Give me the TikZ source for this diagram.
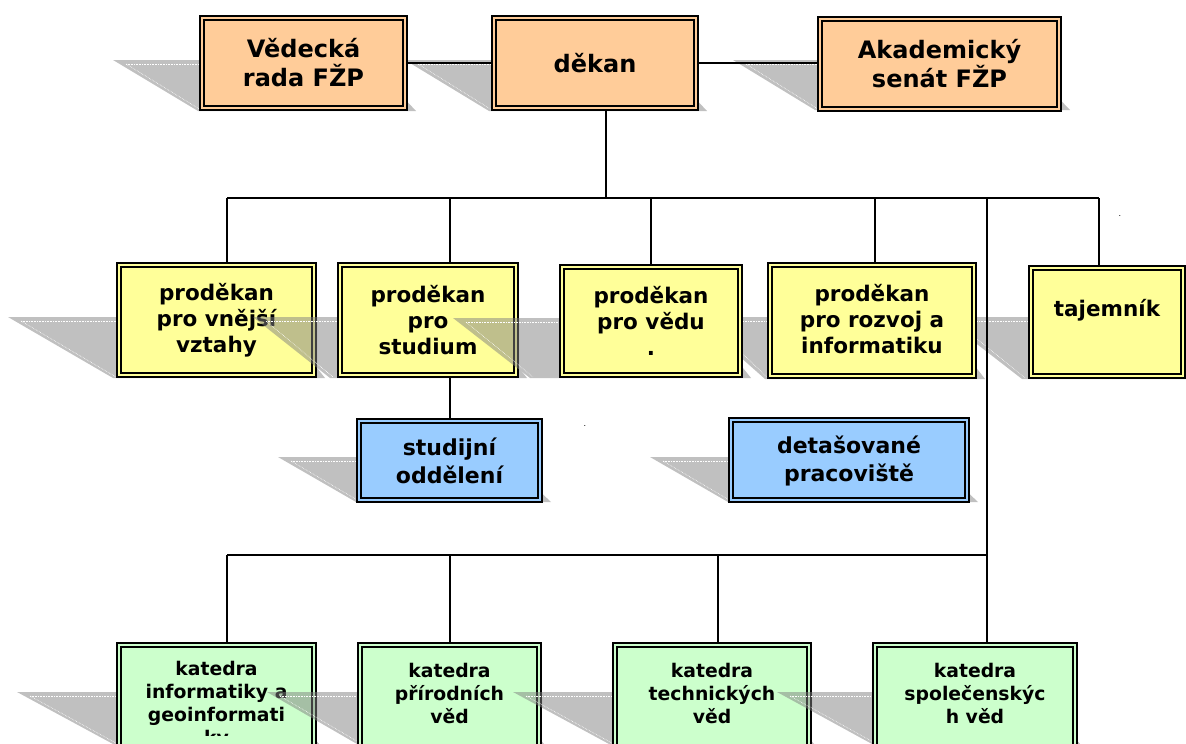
\documentclass[tikz,border=0pt]{standalone}
\usepackage{fontspec}
\setmainfont{DejaVu Sans}
\pgfdeclarelayer{shadowlayer}
\pgfdeclarelayer{linelayer}
\pgfsetlayers{shadowlayer,linelayer,main}
\definecolor{peach}{HTML}{FFCC99}
\definecolor{pyellow}{HTML}{FFFF99}
\definecolor{pblue}{HTML}{99CCFF}
\definecolor{pgreen}{HTML}{CCFFCC}
\definecolor{shgray}{HTML}{C0C0C0}
% #1 xl, #2 ym, #3 x top right, #4 yb, #5 x bottom left, #6 x bottom right, #7 style
\newcommand\shadowpoly[7]{\fill[#7] (#1,#2) -- (#3,#2) -- (#6,#4) -- (#5,#4) -- cycle;
  \draw[shline] (#1+13,#2+4) -- (#3,#2+4);
  \draw[shline] (#1+13,#2+4) -- (#5+3,#4-1);}
% #1 name, #2 style, #3 x0, #4 y0, #5 x1, #6 y1 (outer edges)
\newcommand\orgbox[6]{\node[#2, minimum width={#5-#3-6}, minimum height={#6-#4-6}] (#1) at ({(#3+#5)/2},{(#4+#6)/2}) {};}
\tikzset{
  box/.style={rectangle, draw=black, line width=2.3pt, double distance=1.4pt, inner sep=0pt},
  boxo/.style={box, fill=peach, double=peach},
  boxy/.style={box, fill=pyellow, double=pyellow},
  boxb/.style={box, fill=pblue, double=pblue},
  boxg/.style={box, fill=pgreen, double=pgreen},
  shd/.style={fill=shgray},
  ovl/.style={fill=black!50, fill opacity=0.5},
  shline/.style={white, line width=0.6pt, densely dotted},
  conn/.style={draw=black, line width=1.6pt},
  ttop/.style={font=\fontsize{24}{29}\selectfont\bfseries, align=center, inner sep=0pt},
  tpro/.style={font=\fontsize{21.5}{26}\selectfont\bfseries, align=center, inner sep=0pt},
  tblu/.style={font=\fontsize{22}{28}\selectfont\bfseries, align=center, inner sep=0pt},
  tkat/.style={font=\fontsize{18.8}{23}\selectfont\bfseries, align=center, inner sep=0pt},
  tdot/.style={font=\fontsize{8}{8}\selectfont, inner sep=0pt},
}
\begin{document}
\begin{tikzpicture}[x=1pt, y=-1pt]
\useasboundingbox (0,0) rectangle (1186,744);
% ---------- shadows (underneath) ----------
\begin{pgfonlayer}{shadowlayer}
\shadowpoly{113}{60}{368}{111}{198}{416}{shd}
\shadowpoly{405}{60}{659}{111}{489}{707}{shd}
\shadowpoly{733}{60}{1022}{110}{815}{1070}{shd}
\shadowpoly{8}{317}{277}{378}{113}{325}{shd}
\shadowpoly{253}{317}{479}{378}{330}{527}{shd}
\shadowpoly{453}{318}{703}{378}{530}{751}{shd}
\shadowpoly{695}{317}{937}{379}{765}{985}{shd}
\shadowpoly{942}{317}{1146}{379}{1022}{1194}{shd}
\shadowpoly{278}{457}{503}{502}{356}{551}{shd}
\shadowpoly{650}{457}{930}{502}{728}{978}{shd}
\shadowpoly{17}{692}{277}{744}{113}{319}{shd}
\shadowpoly{267}{692}{502}{744}{357}{544}{shd}
\shadowpoly{513}{692}{772}{744}{609}{814}{shd}
\shadowpoly{777}{692}{1038}{744}{872}{1080}{shd}
\end{pgfonlayer}
% ---------- boxes ----------
\orgbox{vr}{boxo}{199}{15}{408}{111}
\orgbox{dk}{boxo}{491}{15}{699}{111}
\orgbox{as}{boxo}{817}{16}{1062}{112}
\orgbox{p1}{boxy}{116}{262}{317}{378}
\orgbox{p2}{boxy}{337}{262}{519}{378}
\orgbox{p3}{boxy}{559}{264}{743}{378}
\orgbox{p4}{boxy}{767}{262}{977}{379}
\orgbox{p5}{boxy}{1028}{265}{1186}{379}
\orgbox{so}{boxb}{356}{418}{543}{503}
\orgbox{dp}{boxb}{728}{417}{970}{503}
\orgbox{k1}{boxg}{116}{642}{317}{770}
\orgbox{k2}{boxg}{357}{642}{542}{770}
\orgbox{k3}{boxg}{612}{642}{812}{770}
\orgbox{k4}{boxg}{872}{642}{1078}{770}
% ---------- texts ----------
\node[ttop] (vrt) at (303.5,62.5) {Vědecká\\rada FŽP};
\node[ttop] (dkt) at (595,63) {děkan};
\node[ttop] (ast) at (939.5,64) {Akademický\\senát FŽP};
\node[tpro] (p1t) at (216.5,320) {proděkan\\pro vnější\\vztahy};
\node[tpro] (p2t) at (428,320) {proděkan\\pro\\studium};
\node[tpro] (p3t) at (651,321) {proděkan\\pro vědu\\.};
\node[tpro] (p4t) at (872,319) {proděkan\\pro rozvoj a\\informatiku};
\node[tpro] (p5t) at (1107,310) {tajemník};
\node[tblu] (sot) at (449.5,461) {studijní\\oddělení};
\node[tblu] (dpt) at (849,461) {detašované\\pracoviště};
\begin{scope}
\clip (116,600) rectangle (317,735);
\node[tkat] (k1t) at (216.5,704.5) {katedra\\informatiky a\\geoinformati\\ky};
\end{scope}
\node[tkat] (k2t) at (449.5,693) {katedra\\přírodních\\věd};
\node[tkat] (k3t) at (712,693) {katedra\\technických\\věd};
\node[tkat] (k4t) at (975,693) {katedra\\společenskýc\\h věd};
\node[tdot] (d1) at (1120,216) {.};
\node[tdot] (d2) at (585,426) {.};
% ---------- connectors ----------
\coordinate (jd) at (606,198);
\coordinate (j1) at (227,198);
\coordinate (j2) at (450,198);
\coordinate (j3) at (651,198);
\coordinate (j4) at (875,198);
\coordinate (j5) at (1099,198);
\coordinate (jv) at (987,198);
\coordinate (m1) at (227,555);
\coordinate (m2) at (450,555);
\coordinate (m3) at (718,555);
\coordinate (m4) at (987,555);
\begin{pgfonlayer}{linelayer}
\draw[conn] (vr.east) -- (vr.east -| as.west);
\draw[conn] (jd |- dk.south) -- (jd);
\draw[conn] (j1) -- (j5);
\draw[conn] (j1) -- (j1 |- p1.north);
\draw[conn] (j2) -- (j2 |- p2.north);
\draw[conn] (j3) -- (j3 |- p3.north);
\draw[conn] (j4) -- (j4 |- p4.north);
\draw[conn] (j5) -- (j5 |- p5.north);
\draw[conn] (j2 |- p2.south) -- (j2 |- so.north);
\draw[conn] (jv) -- (jv |- k4.north);
\draw[conn] (m1) -- (m4);
\draw[conn] (m1) -- (m1 |- k1.north);
\draw[conn] (m2) -- (m2 |- k2.north);
\draw[conn] (m3) -- (m3 |- k3.north);
\end{pgfonlayer}
% ---------- shadows that fall over neighbouring boxes ----------
\begin{scope}
\clip (116,262) rectangle (317,378);
\shadowpoly{253}{317}{479}{378}{330}{527}{ovl}
\end{scope}
\begin{scope}
\clip (337,262) rectangle (519,378);
\shadowpoly{453}{318}{703}{378}{530}{751}{ovl}
\end{scope}
\begin{scope}
\clip (116,642) rectangle (317,744);
\shadowpoly{267}{692}{502}{744}{357}{544}{ovl}
\end{scope}
\begin{scope}
\clip (357,642) rectangle (542,744);
\shadowpoly{513}{692}{772}{744}{609}{814}{ovl}
\end{scope}
\begin{scope}
\clip (612,642) rectangle (812,744);
\shadowpoly{777}{692}{1038}{744}{872}{1080}{ovl}
\end{scope}
\end{tikzpicture}
\end{document}
